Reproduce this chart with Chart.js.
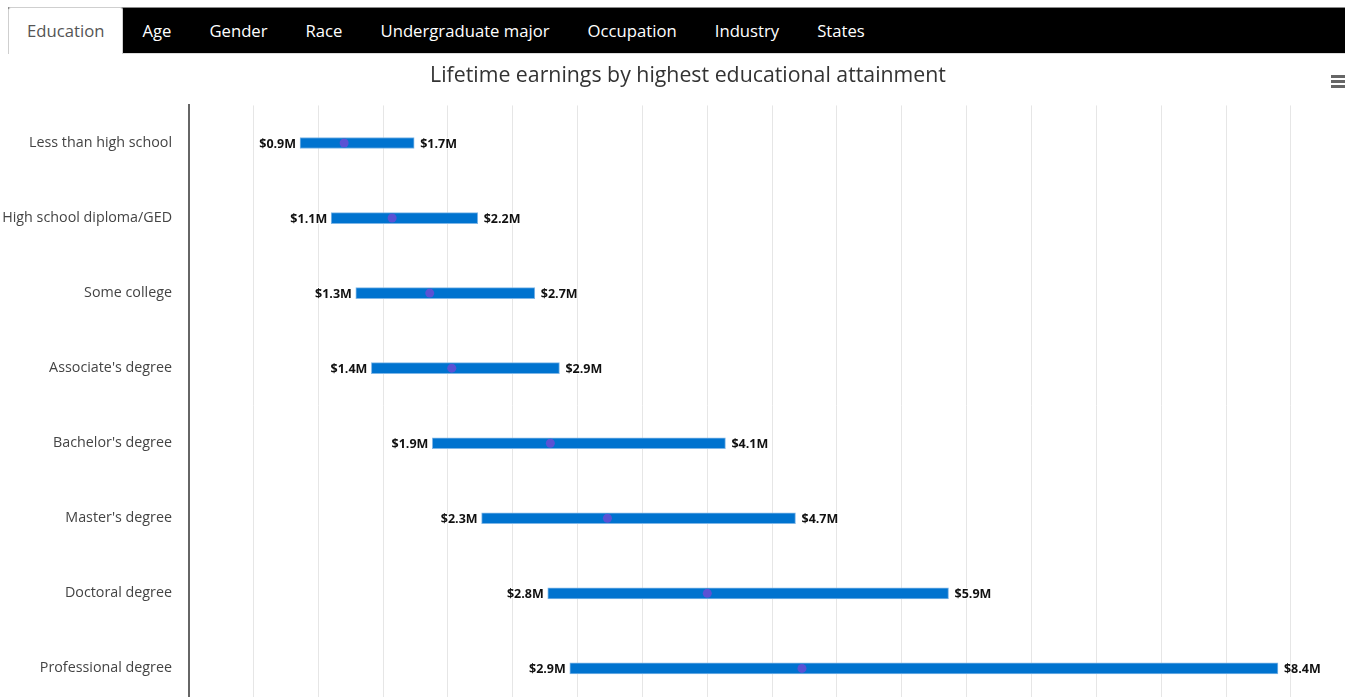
<!DOCTYPE html>
<html>
<head>
<meta charset="utf-8">
<script src="https://cdn.jsdelivr.net/npm/chart.js@4"></script>
<style>
  html, body { margin:0; padding:0; overflow:hidden; background:#fff; width:1345px; height:697px; }
  #tabs { position:absolute; left:8px; top:7px; width:1337px; height:45px; background:#000;
          border-top:1px solid #8a8a8a; border-bottom:1px solid #dcdcdc; white-space:nowrap;
          font-family:"Open Sans", sans-serif; font-size:16.7px; }
  #tabs span { display:inline-block; box-sizing:border-box; height:46px; line-height:48px; padding:0 19px; color:#fff; vertical-align:top; margin-top:-1px; }
  #tabs span.active { background:#fff; color:#555; border:1px solid #cfcfcf; border-bottom:none; border-radius:3px 3px 0 0; padding:0 18px; height:47px; line-height:46px; }
  #c { position:absolute; left:0; top:53px; display:block; }
  .burger { position:absolute; left:1331px; width:16px; height:3px; background:#666; }
</style>
</head>
<body>
<div id="tabs"><span class="active">Education</span><span>Age</span><span>Gender</span><span>Race</span><span>Undergraduate major</span><span>Occupation</span><span>Industry</span><span>States</span></div>
<canvas id="c" width="1376" height="678" style="width:1376px;height:678px"></canvas>
<div class="burger" style="top:75px"></div>
<div class="burger" style="top:80px"></div>
<div class="burger" style="top:85px"></div>
<script>
const categories = ["Less than high school","High school diploma/GED","Some college","Associate's degree","Bachelor's degree","Master's degree","Doctoral degree","Professional degree"];
const lowValues = [0.86, 1.10, 1.29, 1.41, 1.88, 2.26, 2.77, 2.94];
const highValues = [1.74, 2.23, 2.67, 2.86, 4.14, 4.68, 5.86, 8.40];
const medianValues = [1.20, 1.57, 1.86, 2.03, 2.79, 3.23, 4.00, 4.73];
const axisMin = 0, axisMax = 9.156, axisStep = 0.5;

const fmt = v => '$' + v.toFixed(1) + 'M';

const rangeLabels = {
  id: 'rangeLabels',
  afterDatasetsDraw(chart) {
    const ctx = chart.ctx;
    const meta = chart.getDatasetMeta(1);
    const xs = chart.scales.x;
    ctx.save();
    ctx.font = 'bold 12.5px "Open Sans", sans-serif';
    ctx.textBaseline = 'middle';
    ctx.lineJoin = 'round';
    meta.data.forEach((el, i) => {
      const y = el.y + 1.5;
      const xl = xs.getPixelForValue(lowValues[i]);
      const xh = xs.getPixelForValue(highValues[i]);
      [[fmt(lowValues[i]), xl - 4, 'right'], [fmt(highValues[i]), xh + 6, 'left']].forEach(([t, x, a]) => {
        ctx.textAlign = a;
        ctx.strokeStyle = 'rgba(255,255,255,0.9)';
        ctx.lineWidth = 2;
        ctx.strokeText(t, x, y);
        ctx.fillStyle = '#111';
        ctx.fillText(t, x, y);
      });
    });
    ctx.restore();
  }
};

new Chart(document.getElementById('c'), {
  type: 'bar',
  data: {
    labels: categories,
    datasets: [
      {
        type: 'line',
        indexAxis: 'y',
        data: medianValues,
        showLine: false,
        pointRadius: 4.5,
        pointHoverRadius: 4.5,
        pointBackgroundColor: '#5a52d4',
        pointBorderColor: '#5a52d4',
        pointBorderWidth: 0,
        order: 0
      },
      {
        type: 'bar',
        data: lowValues.map((v, i) => [v, highValues[i]]),
        backgroundColor: '#0073cf',
        borderColor: '#7fb6e6',
        borderWidth: 1,
        borderSkipped: false,
        barThickness: 11,
        order: 1
      }
    ]
  },
  options: {
    indexAxis: 'y',
    responsive: false,
    animation: false,
    devicePixelRatio: 1,
    layout: { autoPadding: false, padding: { left: 0, right: 0, top: 0, bottom: 0 } },
    plugins: {
      legend: { display: false },
      tooltip: { enabled: false },
      title: {
        display: true,
        text: 'Lifetime earnings by highest educational attainment',
        color: '#333',
        font: { family: '"Open Sans", sans-serif', size: 21.3, weight: 'normal', lineHeight: 1.2 },
        padding: { top: 9.7, bottom: 17.2 }
      }
    },
    scales: {
      x: {
        type: 'linear',
        position: 'bottom',
        min: axisMin,
        max: axisMax,
        ticks: { display: false, stepSize: axisStep },
        grid: { color: '#e6e6e6', lineWidth: 1, drawTicks: false },
        border: { display: false },
        afterFit(s) { s.height = 0; }
      },
      y: {
        type: 'category',
        offset: true,
        ticks: { color: '#444', font: { family: '"Open Sans", sans-serif', size: 14.3 }, padding: 16.5 },
        grid: { display: false, drawTicks: false },
        border: { display: true, color: '#666', width: 2 },
        afterFit(s) { s.width = 188.5; }
      }
    }
  },
  plugins: [rangeLabels]
});
</script>
</body>
</html>
